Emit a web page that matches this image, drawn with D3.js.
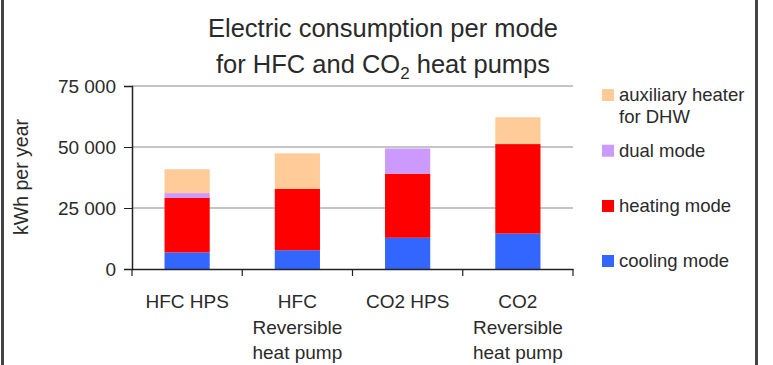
<!DOCTYPE html>
<html><head><meta charset="utf-8">
<script src="https://cdn.jsdelivr.net/npm/d3@7"></script>
<style>
body{margin:0;background:#fff;}
svg text{font-family:"Liberation Sans",Arial,sans-serif;fill:#2a2a2a;}
</style></head>
<body><svg id="c" width="773" height="365"></svg>
<script>
const categories = ["HFC HPS", "HFC\nReversible\nheat pump", "CO2 HPS", "CO2\nReversible\nheat pump"];
const seriesNames = ["cooling mode", "heating mode", "dual mode", "auxiliary heater\nfor DHW"];
const cooling = [6800, 7700, 12800, 14500];
const heating = [22300, 25100, 26300, 36700];
const dual = [2000, 0, 10300, 0];
const auxiliary = [9800, 14600, 0, 11000];
const yTicks = [0, 25000, 50000, 75000];
const colors = ["#3366FF", "#FF0000", "#CC99FF", "#FFCC99"];

const svg = d3.select("#c");
// frame lines
svg.append("line").attr("x1",2.5).attr("x2",2.5).attr("y1",0).attr("y2",365).attr("stroke","#444").attr("stroke-width",3);
svg.append("line").attr("x1",756.5).attr("x2",756.5).attr("y1",0).attr("y2",365).attr("stroke","#444").attr("stroke-width",3);

const L = 132, R = 573, T = 86, B = 269;
const x = d3.scaleBand().domain(categories).range([L, R]).paddingInner(0.59).paddingOuter(0.295);
const xTick = d3.scaleBand().domain(categories).range([L, R]);
const y = d3.scaleLinear().domain([0, 75000]).range([B, T]);

// gridlines
svg.append("g").selectAll("line").data(yTicks.filter(d=>d>0)).join("line")
  .attr("x1", L).attr("x2", R).attr("y1", d=>y(d)).attr("y2", d=>y(d))
  .attr("stroke", "#8a8a8a").attr("stroke-width", 1);

// stacked bars
const rows = categories.map((c,i)=>({cat:c, s0:cooling[i], s1:heating[i], s2:dual[i], s3:auxiliary[i]}));
const stack = d3.stack().keys(["s0","s1","s2","s3"])(rows);
svg.append("g").selectAll("g").data(stack).join("g").attr("fill",(d,i)=>colors[i])
  .selectAll("rect").data(d=>d).join("rect")
  .attr("x", d=>x(d.data.cat)).attr("width", x.bandwidth())
  .attr("y", d=>y(d[1])).attr("height", d=>y(d[0])-y(d[1]));

// y axis
const yAxis = svg.append("g").attr("transform",`translate(${L},0)`)
  .call(d3.axisLeft(y).tickValues(yTicks).tickSize(8).tickPadding(8).tickFormat(d=>d3.format(",")(d).replace(/,/g," ")));
yAxis.select(".domain").attr("stroke","#222").attr("stroke-width",1.5);
yAxis.selectAll(".tick line").attr("stroke","#222");
yAxis.selectAll("text").style("font-size","19px").attr("fill","#2a2a2a");

// x axis
const xAxis = svg.append("g").attr("transform",`translate(0,${B})`)
  .call(d3.axisBottom(xTick).tickSize(0).tickFormat(()=>""));
xAxis.select(".domain").attr("stroke","#222").attr("stroke-width",1.5);
const bnds = [L, ...categories.map(c=>xTick(c)+xTick.bandwidth())];
svg.append("g").selectAll("line").data(bnds).join("line")
  .attr("x1",d=>d).attr("x2",d=>d).attr("y1",B).attr("y2",B+7).attr("stroke","#222").attr("stroke-width",1.2);
const labs = svg.append("g").selectAll("text").data(categories).join("text")
  .attr("x", d=>xTick(d)+xTick.bandwidth()/2).attr("y", 308)
  .attr("text-anchor","middle").style("font-size","19px");
labs.each(function(d){
  const t = d3.select(this);
  d.split("\n").forEach((ln,i)=>t.append("tspan").attr("x", xTick(d)+xTick.bandwidth()/2).attr("dy", i?25.7:0).text(ln));
});

// y label
svg.append("text").attr("transform","translate(28,177) rotate(-90)").attr("text-anchor","middle")
  .style("font-size","19.5px").text("kWh per year");

// title
const title = svg.append("text").attr("x",383).attr("y",36.5).attr("text-anchor","middle").style("font-size","25.5px");
title.append("tspan").attr("x",383).text("Electric consumption per mode");
const t2 = svg.append("text").attr("x",383).attr("y",73).attr("text-anchor","middle").style("font-size","25.5px");
t2.append("tspan").text("for HFC and CO");
t2.append("tspan").attr("dy",6).style("font-size","17px").text("2");
t2.append("tspan").attr("dy",-6).text(" heat pumps");

// legend
const legY = [261, 206, 150.7, 95];
const leg = svg.append("g").selectAll("g").data(seriesNames).join("g")
  .attr("transform",(d,i)=>`translate(602,${legY[i]})`);
leg.append("rect").attr("x",0).attr("y",-6).attr("width",12).attr("height",12).attr("fill",(d,i)=>colors[i]);
leg.append("text").attr("x",17).attr("y",6).style("font-size","18.5px")
  .each(function(d){
    const t=d3.select(this);
    d.split("\n").forEach((ln,i)=>t.append("tspan").attr("x",17).attr("dy",i?22:0).text(ln));
  });
</script></body></html>
